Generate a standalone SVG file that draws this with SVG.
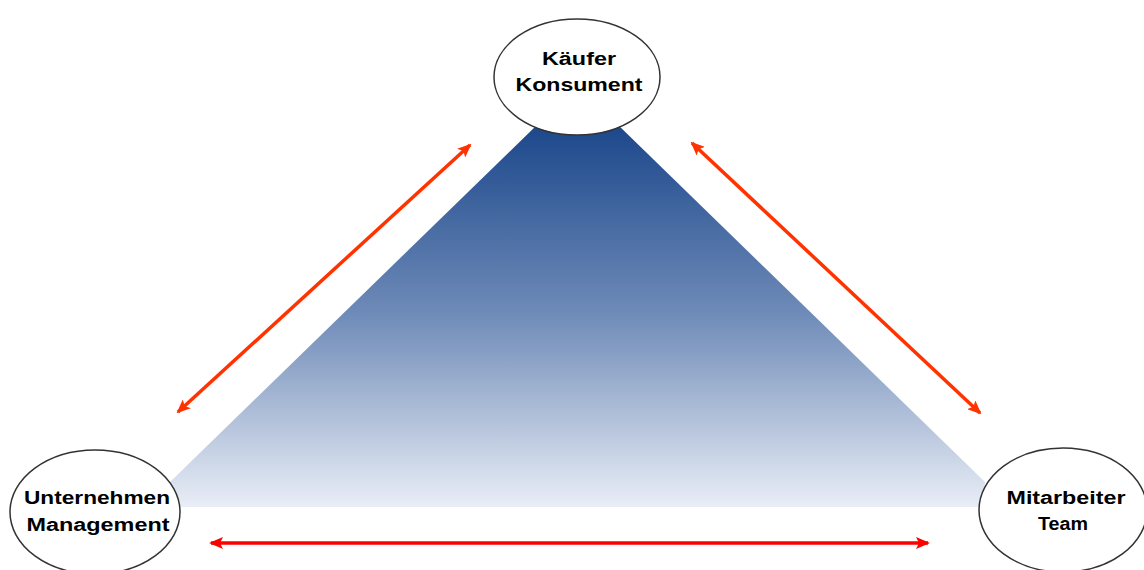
<svg xmlns="http://www.w3.org/2000/svg" width="1144" height="570" viewBox="0 0 1144 570">
  <defs>
    <linearGradient id="tri" x1="0" y1="0" x2="0" y2="1">
      <stop offset="0" stop-color="#1a468a"/>
      <stop offset="0.5" stop-color="#6f8bb8"/>
      <stop offset="1" stop-color="#e9eef6"/>
    </linearGradient>
    <marker id="ah-or" viewBox="0 0 14 12" refX="12" refY="6" markerWidth="14" markerHeight="12" markerUnits="userSpaceOnUse" orient="auto-start-reverse">
      <path d="M0,0 L14,6 L0,12 L3,6 Z" fill="#ff3300"/>
    </marker>
    <marker id="ah-red" viewBox="0 0 14 12" refX="12" refY="6" markerWidth="14" markerHeight="12" markerUnits="userSpaceOnUse" orient="auto-start-reverse">
      <path d="M0,0 L14,6 L0,12 L3,6 Z" fill="#ff0000"/>
    </marker>
  </defs>
  <style>
    .node ellipse { fill: #ffffff; stroke: #333333; stroke-width: 1.5; }
    .node text { font-family: "Liberation Sans", Arial, sans-serif; font-weight: bold; font-size: 18px; fill: #000000; text-anchor: middle; }
    .diag { stroke: #ff3300; stroke-width: 3.5; fill: none; marker-start: url(#ah-or); marker-end: url(#ah-or); }
    .horiz { stroke: #ff0000; stroke-width: 3.5; fill: none; marker-start: url(#ah-red); marker-end: url(#ah-red); }
  </style>
  <rect width="1144" height="570" fill="#ffffff"/>
  <g id="triangle">
    <polygon points="540,122 615,122 985,482 982,507 176,507 170,482" fill="url(#tri)"/>
  </g>
  <g id="connectors">
    <line class="diag" x1="178" y1="412" x2="470" y2="145"/>
    <line class="diag" x1="692" y1="143" x2="980" y2="413"/>
    <line class="horiz" x1="211" y1="543" x2="928" y2="543"/>
  </g>
  <g id="node-kaeufer" class="node">
    <ellipse cx="577" cy="77" rx="83" ry="58"/>
    <text x="579" y="65" textLength="74" lengthAdjust="spacingAndGlyphs">Käufer</text>
    <text x="579" y="91" textLength="127" lengthAdjust="spacingAndGlyphs">Konsument</text>
  </g>
  <g id="node-unternehmen" class="node">
    <ellipse cx="95" cy="512" rx="85" ry="62"/>
    <text x="97" y="504" textLength="146" lengthAdjust="spacingAndGlyphs">Unternehmen</text>
    <text x="98" y="531" textLength="143" lengthAdjust="spacingAndGlyphs">Management</text>
  </g>
  <g id="node-mitarbeiter" class="node">
    <ellipse cx="1063" cy="510" rx="84" ry="62"/>
    <text x="1066" y="504" textLength="119" lengthAdjust="spacingAndGlyphs">Mitarbeiter</text>
    <text x="1063" y="530" textLength="50" lengthAdjust="spacingAndGlyphs">Team</text>
  </g>
</svg>
